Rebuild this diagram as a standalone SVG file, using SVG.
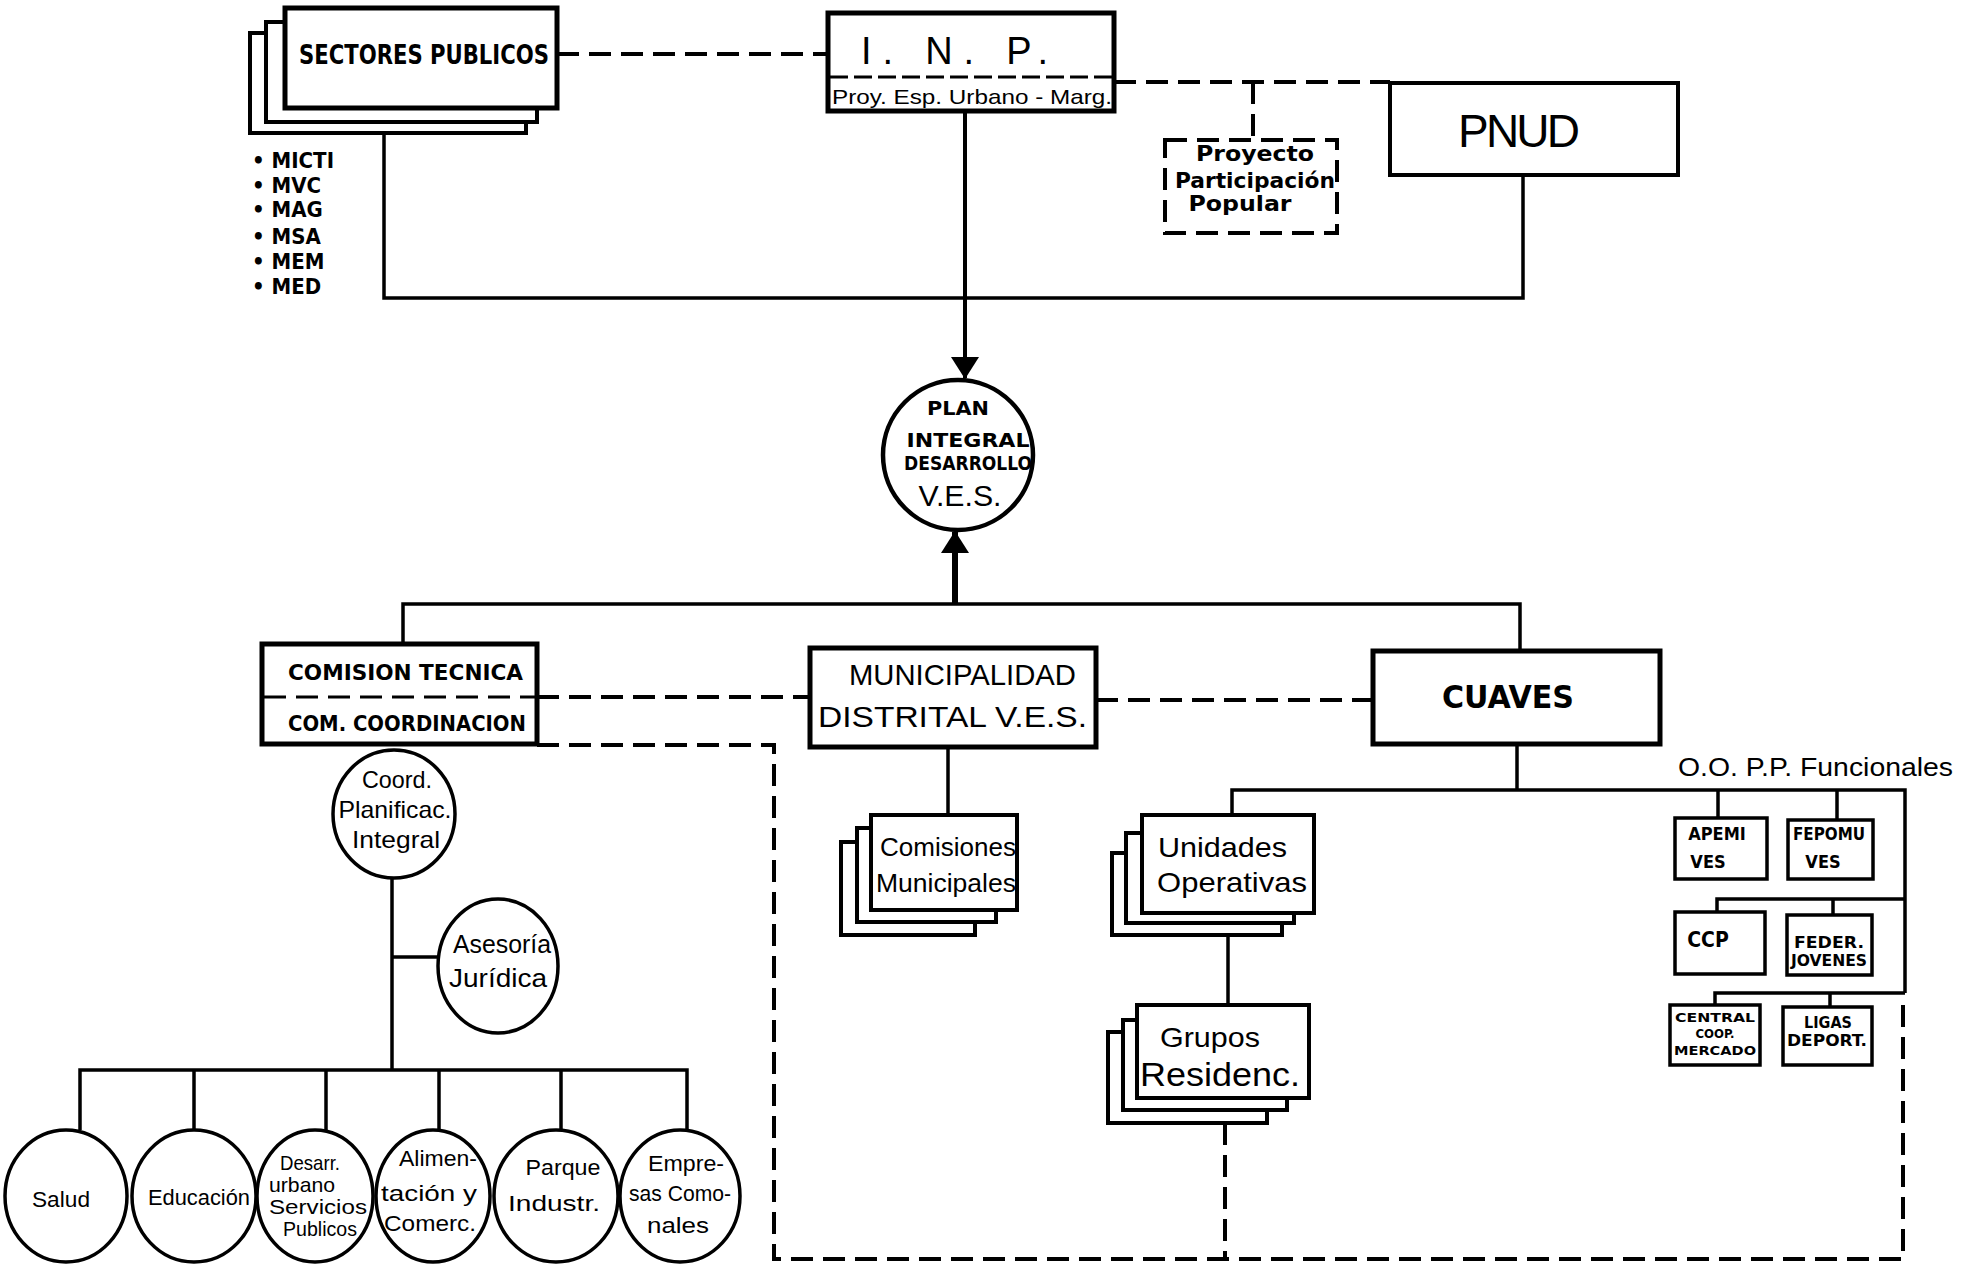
<svg xmlns="http://www.w3.org/2000/svg" width="1981" height="1266" viewBox="0 0 1981 1266">
<defs>
<marker id="arr" viewBox="0 0 22 28" refX="21" refY="14" markerWidth="22" markerHeight="28" markerUnits="userSpaceOnUse" orient="auto">
<path d="M0,0 L22,14 L0,28 z" fill="#000"/>
</marker>
<style>
.bx{fill:#fff;stroke:#000;stroke-width:4}
.bk{fill:#fff;stroke:#000;stroke-width:5}
.sm{fill:#fff;stroke:#000;stroke-width:3.5}
.el{fill:#fff;stroke:#000;stroke-width:3.5}
.ln{fill:none;stroke:#000;stroke-width:3.5}
.dl{fill:none;stroke:#000;stroke-width:4;stroke-dasharray:22 10}
.b{font-family:"DejaVu Sans Condensed","DejaVu Sans",sans-serif;font-weight:bold;fill:#000}
.h{font-family:"Liberation Sans",Arial,sans-serif;fill:#000}
.m{text-anchor:middle}
</style>
</defs>
<rect width="1981" height="1266" fill="#fff"/>

<g id="connectors">
<path class="dl" d="M557,54 H828"/>
<path class="dl" d="M1114,82 H1390"/>
<path class="dl" d="M1253,82 V140"/>
<path class="ln" d="M384,134 V298 H1523 V175"/>
<path class="ln" d="M965,112 V378" marker-end="url(#arr)" style="stroke-width:4"/>
<path class="ln" d="M955,605 V532" marker-end="url(#arr)" style="stroke-width:6"/>
<path class="ln" d="M403,643 V604 H1520 V650"/>
<path class="dl" d="M537,697 H810"/>
<path class="dl" d="M1096,700 H1373"/>
<path class="dl" d="M537,745 H774 V1259 H1903 V997"/>
<path class="ln" d="M948,747 V815"/>
<path class="ln" d="M1517,743 V790"/>
<path class="ln" d="M1232,815 V790 H1905 V993"/>
<path class="ln" d="M1718,790 V818"/>
<path class="ln" d="M1837,790 V820"/>
<path class="ln" d="M1717,912 V899 H1905"/>
<path class="ln" d="M1833,899 V915"/>
<path class="ln" d="M1715,1005 V993 H1905"/>
<path class="ln" d="M1830,993 V1007"/>
<path class="ln" d="M1228,913 V1005"/>
<path class="dl" d="M1225,1123 V1259"/>
<path class="ln" d="M392,878 V1070"/>
<path class="ln" d="M392,957 H438"/>
<path class="ln" d="M80,1130 V1070 H687 V1130"/>
<path class="ln" d="M194,1070 V1130"/>
<path class="ln" d="M326,1070 V1130"/>
<path class="ln" d="M439,1070 V1130"/>
<path class="ln" d="M561,1070 V1130"/>
</g>

<g id="sectores-publicos">
<rect class="bx" x="250" y="33" width="276" height="100"/>
<rect class="bx" x="266" y="22" width="271" height="100"/>
<rect class="bk" x="285" y="8" width="272" height="100"/>
<text class="b" x="299" y="64" font-size="26" textLength="250" lengthAdjust="spacingAndGlyphs">SECTORES PUBLICOS</text>
</g>

<g id="sector-list">
<g class="b" font-size="22">
<text x="252" y="168">• MICTI</text>
<text x="252" y="193">• MVC</text>
<text x="252" y="217">• MAG</text>
<text x="252" y="244">• MSA</text>
<text x="252" y="269">• MEM</text>
<text x="252" y="294">• MED</text>
</g>
</g>

<g id="inp">
<rect class="bk" x="828" y="13" width="286" height="98"/>
<path class="dl" d="M830,77 H1112" style="stroke-width:3;stroke-dasharray:18 6"/>
<text class="h" x="861" y="64" font-size="38" textLength="187" lengthAdjust="spacing">I. N. P.</text>
<text class="h" x="832" y="104" font-size="21" textLength="280" lengthAdjust="spacingAndGlyphs">Proy. Esp. Urbano - Marg.</text>
</g>

<g id="proyecto">
<rect x="1165" y="140" width="172" height="93" fill="#fff" stroke="#000" stroke-width="4" stroke-dasharray="22 10"/>
<text class="b m" x="1255" y="161" font-size="22" textLength="118" lengthAdjust="spacingAndGlyphs">Proyecto</text>
<text class="b m" x="1255" y="188" font-size="22" textLength="160" lengthAdjust="spacingAndGlyphs">Participación</text>
<text class="b m" x="1240" y="211" font-size="22" textLength="103" lengthAdjust="spacingAndGlyphs">Popular</text>
</g>

<g id="pnud">
<rect class="bx" x="1390" y="83" width="288" height="92"/>
<text class="h m" x="1519" y="147" font-size="46" textLength="122" lengthAdjust="spacing">PNUD</text>
</g>

<g id="plan-integral">
<ellipse class="el" cx="958" cy="455" rx="75" ry="75" style="stroke-width:4.5"/>
<text class="b m" x="958" y="415" font-size="20" textLength="62" lengthAdjust="spacingAndGlyphs">PLAN</text>
<text class="b m" x="968" y="447" font-size="20" textLength="123" lengthAdjust="spacingAndGlyphs">INTEGRAL</text>
<text class="b m" x="968" y="470" font-size="20" textLength="128" lengthAdjust="spacingAndGlyphs">DESARROLLO</text>
<text class="h m" x="960" y="506" font-size="30" textLength="83" lengthAdjust="spacingAndGlyphs">V.E.S.</text>
</g>

<g id="comision-tecnica">
<rect class="bk" x="262" y="644" width="275" height="100"/>
<path class="dl" d="M264,697 H535" style="stroke-width:3"/>
<text class="b" x="288" y="680" font-size="22" textLength="235" lengthAdjust="spacingAndGlyphs">COMISION TECNICA</text>
<text class="b" x="288" y="731" font-size="22" textLength="238" lengthAdjust="spacingAndGlyphs">COM. COORDINACION</text>
</g>

<g id="municipalidad">
<rect class="bk" x="810" y="648" width="286" height="99"/>
<text class="h" x="849" y="685" font-size="29" textLength="227" lengthAdjust="spacingAndGlyphs">MUNICIPALIDAD</text>
<text class="h" x="818" y="727" font-size="29" textLength="269" lengthAdjust="spacingAndGlyphs">DISTRITAL V.E.S.</text>
</g>

<g id="cuaves">
<rect class="bk" x="1373" y="651" width="287" height="93"/>
<text class="b" x="1442" y="708" font-size="32" textLength="132" lengthAdjust="spacingAndGlyphs">CUAVES</text>
</g>

<g id="comisiones-municipales">
<rect class="bx" x="841" y="842" width="134" height="93"/>
<rect class="bx" x="857" y="828" width="139" height="94"/>
<rect class="bx" x="871" y="815" width="146" height="95"/>
<text class="h" x="880" y="856" font-size="26" textLength="136" lengthAdjust="spacingAndGlyphs">Comisiones</text>
<text class="h" x="876" y="892" font-size="26" textLength="140" lengthAdjust="spacingAndGlyphs">Municipales</text>
</g>

<g id="unidades-operativas">
<rect class="bx" x="1112" y="853" width="170" height="82"/>
<rect class="bx" x="1126" y="833" width="168" height="90"/>
<rect class="bx" x="1142" y="815" width="172" height="98"/>
<text class="h" x="1158" y="857" font-size="28" textLength="129" lengthAdjust="spacingAndGlyphs">Unidades</text>
<text class="h" x="1157" y="892" font-size="28" textLength="150" lengthAdjust="spacingAndGlyphs">Operativas</text>
</g>

<g id="grupos-residenc">
<rect class="bx" x="1108" y="1032" width="159" height="91"/>
<rect class="bx" x="1123" y="1020" width="164" height="90"/>
<rect class="bx" x="1137" y="1005" width="172" height="93"/>
<text class="h" x="1160" y="1047" font-size="28" textLength="100" lengthAdjust="spacingAndGlyphs">Grupos</text>
<text class="h" x="1140" y="1086" font-size="34" textLength="160" lengthAdjust="spacingAndGlyphs">Residenc.</text>
</g>

<g id="oopp-label">
<text class="h" x="1678" y="776" font-size="26" textLength="275" lengthAdjust="spacingAndGlyphs">O.O. P.P. Funcionales</text>
</g>

<g id="apemi">
<rect class="sm" x="1675" y="818" width="92" height="61"/>
<text class="b m" x="1717" y="840" font-size="18">APEMI</text>
<text class="b m" x="1708" y="868" font-size="18">VES</text>
</g>
<g id="fepomu">
<rect class="sm" x="1788" y="820" width="85" height="59"/>
<text class="b m" x="1829" y="840" font-size="17" textLength="72" lengthAdjust="spacingAndGlyphs">FEPOMU</text>
<text class="b m" x="1823" y="868" font-size="18">VES</text>
</g>
<g id="ccp">
<rect class="sm" x="1675" y="912" width="90" height="62"/>
<text class="b m" x="1708" y="947" font-size="21">CCP</text>
</g>
<g id="feder-jovenes">
<rect class="sm" x="1787" y="915" width="85" height="60"/>
<text class="b m" x="1829" y="948" font-size="16" textLength="70" lengthAdjust="spacingAndGlyphs">FEDER.</text>
<text class="b m" x="1829" y="966" font-size="16" textLength="76" lengthAdjust="spacingAndGlyphs">JOVENES</text>
</g>
<g id="central-coop">
<rect class="sm" x="1670" y="1005" width="90" height="60"/>
<text class="b m" x="1715" y="1022" font-size="13" textLength="80" lengthAdjust="spacingAndGlyphs">CENTRAL</text>
<text class="b m" x="1715" y="1038" font-size="13">COOP.</text>
<text class="b m" x="1715" y="1055" font-size="12" textLength="82" lengthAdjust="spacingAndGlyphs">MERCADO</text>
</g>
<g id="ligas-deport">
<rect class="sm" x="1783" y="1007" width="89" height="58"/>
<text class="b m" x="1828" y="1028" font-size="16">LIGAS</text>
<text class="b m" x="1827" y="1046" font-size="16" textLength="80" lengthAdjust="spacingAndGlyphs">DEPORT.</text>
</g>

<g id="coord-planificac">
<ellipse class="el" cx="394" cy="814" rx="61" ry="64"/>
<text class="h m" x="397" y="788" font-size="24" textLength="70" lengthAdjust="spacingAndGlyphs">Coord.</text>
<text class="h m" x="395" y="818" font-size="24" textLength="113" lengthAdjust="spacingAndGlyphs">Planificac.</text>
<text class="h m" x="396" y="848" font-size="24" textLength="88" lengthAdjust="spacingAndGlyphs">Integral</text>
</g>

<g id="asesoria-juridica">
<ellipse class="el" cx="498" cy="966" rx="60" ry="67"/>
<text class="h m" x="502" y="953" font-size="25" textLength="98" lengthAdjust="spacingAndGlyphs">Asesoría</text>
<text class="h m" x="498" y="987" font-size="25" textLength="98" lengthAdjust="spacingAndGlyphs">Jurídica</text>
</g>

<g id="salud">
<ellipse class="el" cx="66" cy="1196" rx="61" ry="66"/>
<text class="h m" x="61" y="1207" font-size="22" textLength="58" lengthAdjust="spacingAndGlyphs">Salud</text>
</g>
<g id="educacion">
<ellipse class="el" cx="194" cy="1196" rx="62" ry="66"/>
<text class="h m" x="199" y="1205" font-size="22" textLength="102" lengthAdjust="spacingAndGlyphs">Educación</text>
</g>
<g id="desarrollo-urbano">
<ellipse class="el" cx="315" cy="1196" rx="58" ry="66"/>
<text class="h m" x="310" y="1170" font-size="21" textLength="60" lengthAdjust="spacingAndGlyphs">Desarr.</text>
<text class="h m" x="302" y="1192" font-size="21" textLength="66" lengthAdjust="spacingAndGlyphs">urbano</text>
<text class="h m" x="318" y="1214" font-size="21" textLength="98" lengthAdjust="spacingAndGlyphs">Servicios</text>
<text class="h m" x="320" y="1236" font-size="20" textLength="74" lengthAdjust="spacingAndGlyphs">Publicos</text>
</g>
<g id="alimentacion">
<ellipse class="el" cx="433" cy="1196" rx="57" ry="66"/>
<text class="h m" x="438" y="1166" font-size="22" textLength="78" lengthAdjust="spacingAndGlyphs">Alimen-</text>
<text class="h m" x="429" y="1201" font-size="22" textLength="96" lengthAdjust="spacingAndGlyphs">tación y</text>
<text class="h m" x="430" y="1231" font-size="22" textLength="92" lengthAdjust="spacingAndGlyphs">Comerc.</text>
</g>
<g id="parque-industrial">
<ellipse class="el" cx="556" cy="1196" rx="62" ry="66"/>
<text class="h m" x="563" y="1175" font-size="22" textLength="75" lengthAdjust="spacingAndGlyphs">Parque</text>
<text class="h m" x="554" y="1211" font-size="22" textLength="92" lengthAdjust="spacingAndGlyphs">Industr.</text>
</g>
<g id="empresas-comunales">
<ellipse class="el" cx="680" cy="1196" rx="60" ry="66"/>
<text class="h m" x="686" y="1171" font-size="22" textLength="76" lengthAdjust="spacingAndGlyphs">Empre-</text>
<text class="h m" x="680" y="1201" font-size="22" textLength="102" lengthAdjust="spacingAndGlyphs">sas Como-</text>
<text class="h m" x="678" y="1233" font-size="22" textLength="62" lengthAdjust="spacingAndGlyphs">nales</text>
</g>
</svg>
